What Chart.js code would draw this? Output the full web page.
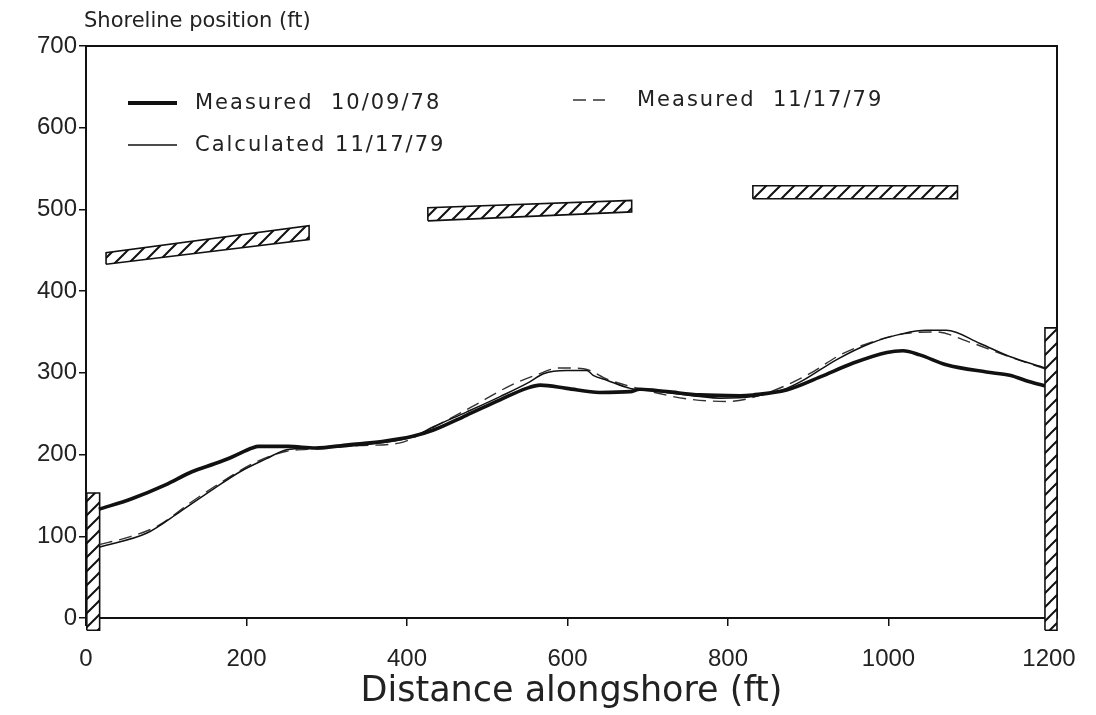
<!DOCTYPE html>
<html><head><meta charset="utf-8">
<script src="https://cdn.jsdelivr.net/npm/chart.js@4.4.1/dist/chart.umd.min.js"></script>
<style>html,body{margin:0;padding:0;background:#fff;}#wrap{width:1096px;height:715px;position:relative;}</style>
</head><body><div id="wrap"><canvas id="c" width="1096" height="715"></canvas></div>
<script>
// ---- data (feet) ----
const xTickValues = [0, 200, 400, 600, 800, 1000, 1200];
const yTickValues = [0, 100, 200, 300, 400, 500, 600, 700];

const measured78X = [16, 57, 99, 132, 161, 182, 207, 215, 252, 286, 327, 369, 406, 433, 474, 516, 549, 566, 599, 640, 678, 690, 724, 765, 815, 831, 873, 915, 956, 998, 1018, 1039, 1072, 1122, 1151, 1176, 1195];
const measured78Y = [133, 146, 163, 179, 189, 197, 208, 210, 210, 208, 212, 216, 222, 230, 248, 267, 281, 285, 281, 276, 277, 280, 277, 273, 272, 273, 279, 295, 312, 325, 327, 322, 310, 301, 297, 289, 284];

const calculated79X = [17, 76, 117, 159, 192, 225, 250, 283, 325, 366, 408, 433, 474, 516, 553, 570, 599, 624, 632, 649, 678, 724, 765, 790, 831, 873, 894, 935, 977, 1018, 1047, 1072, 1114, 1151, 1195];
const calculated79Y = [87, 104, 130, 158, 179, 195, 206, 208, 210, 214, 222, 234, 252, 271, 289, 299, 303, 303, 297, 291, 281, 276, 271, 269, 271, 281, 291, 316, 336, 348, 352, 352, 336, 320, 306];

const measured79X = [17, 50, 90, 130, 170, 210, 250, 290, 340, 390, 430, 480, 530, 560, 590, 620, 650, 700, 750, 800, 850, 900, 940, 980, 1020, 1060, 1100, 1150, 1195];
const measured79Y = [90, 98, 113, 141, 167, 190, 204, 207, 211, 214, 232, 258, 285, 297, 306, 305, 292, 278, 268, 265, 276, 298, 322, 338, 348, 350, 338, 320, 305];

const breakwater1X = [25, 25, 278, 278, 25];
const breakwater1Y = [433, 447, 480, 463, 433];
const breakwater2X = [426, 426, 680, 680, 426];
const breakwater2Y = [486, 502, 511, 497, 486];
const breakwater3X = [831, 831, 1086, 1086, 831];
const breakwater3Y = [513, 529, 529, 513, 513];
const groinLeftX = [1, 1, 17, 17, 1];
const groinLeftY = [-15, 153, 153, -15, -15];
const groinRightX = [1195, 1195, 1210, 1210, 1195];
const groinRightY = [-15, 355, 355, -15, -15];

const zip = (xs, ys) => xs.map((x, i) => ({x, y: ys[i]}));

function hatchPattern() {
  const s = 14;
  const c = document.createElement('canvas');
  c.width = s; c.height = s;
  const g = c.getContext('2d');
  g.fillStyle = '#fff'; g.fillRect(0, 0, s, s);
  g.strokeStyle = '#111'; g.lineWidth = 2;
  g.beginPath();
  g.moveTo(0, s); g.lineTo(s, 0);
  g.moveTo(-s / 2, s / 2); g.lineTo(s / 2, -s / 2);
  g.moveTo(s / 2, s * 1.5); g.lineTo(s * 1.5, s / 2);
  g.stroke();
  return g.createPattern(c, 'repeat');
}
const hatch = hatchPattern();

function structure(label, xs, ys) {
  return {label, data: zip(xs, ys), showLine: true, borderColor: '#111', borderWidth: 1.6,
    backgroundColor: hatch, fill: 'shape', pointRadius: 0, tension: 0, clip: false, legendHidden: true};
}

const datasets = [
  {label: 'Measured  10/09/78', data: zip(measured78X, measured78Y), showLine: true, borderColor: '#111',
   borderWidth: 3.6, pointRadius: 0, cubicInterpolationMode: 'monotone', fill: false, legendCol: 0, legendRow: 0},
  {label: 'Calculated 11/17/79', data: zip(calculated79X, calculated79Y), showLine: true, borderColor: '#111',
   borderWidth: 1.5, pointRadius: 0, cubicInterpolationMode: 'monotone', fill: false, legendCol: 0, legendRow: 1},
  {label: 'Measured  11/17/79', data: zip(measured79X, measured79Y), showLine: true, borderColor: '#333',
   borderWidth: 1.4, borderDash: [13, 7], pointRadius: 0, cubicInterpolationMode: 'monotone', fill: false, legendCol: 1, legendRow: 0},
  structure('breakwater 1', breakwater1X, breakwater1Y),
  structure('breakwater 2', breakwater2X, breakwater2Y),
  structure('breakwater 3', breakwater3X, breakwater3Y),
  structure('groin left', groinLeftX, groinLeftY),
  structure('groin right', groinRightX, groinRightY)
];

// let the hatched groins' fill reach below the x axis (they extend past y = 0)
let savedBottom = null;
const groinFillArea = {
  id: 'groinFillArea',
  beforeDatasetsDraw(chart) { savedBottom = chart.chartArea.bottom; chart.chartArea.bottom += 14; },
  afterDatasetsDraw(chart) { if (savedBottom !== null) chart.chartArea.bottom = savedBottom; }
};

const titlesPlugin = {
  id: 'titlesAndLegend',
  afterDraw(chart) {
    const {ctx, chartArea: a} = chart;
    ctx.save();
    ctx.fillStyle = '#222';
    ctx.textBaseline = 'middle';
    ctx.textAlign = 'left';
    ctx.font = '21px "DejaVu Sans"';
    ctx.fillText('Shoreline position (ft)', a.left - 2, a.top - 24);
    // legend
    const colLine = [a.left + 42, a.left + 487];
    const colLineW = [49, 32];
    const colText = [a.left + 109, a.left + 551];
    const rowY = [a.top + 57, a.top + 99];
    ctx.font = '21px "DejaVu Sans"';
    try { ctx.letterSpacing = '2px'; } catch (e) {}
    chart.data.datasets.forEach(ds => {
      if (ds.legendHidden) return;
      const y = rowY[ds.legendRow] - (ds.legendCol === 1 ? 3 : 0);
      const x0 = colLine[ds.legendCol];
      ctx.save();
      ctx.strokeStyle = ds.borderColor;
      ctx.lineWidth = ds.borderWidth + (ds.borderWidth > 3 ? 0.6 : 0);
      ctx.setLineDash(ds.borderDash || []);
      ctx.beginPath(); ctx.moveTo(x0, y); ctx.lineTo(x0 + colLineW[ds.legendCol], y); ctx.stroke();
      ctx.restore();
      ctx.fillText(ds.label, colText[ds.legendCol], y + 1);
    });
    ctx.restore();
  }
};

new Chart(document.getElementById('c'), {
  type: 'scatter',
  data: {datasets},
  options: {
    responsive: false, animation: false,
    layout: {padding: {top: 46, right: 39, left: 0, bottom: 0}},
    plugins: {legend: {display: false}, tooltip: {enabled: false}},
    scales: {
      x: {
        type: 'linear', position: 'bottom', min: 0, max: 1210,
        afterBuildTicks: s => { s.ticks = xTickValues.map(v => ({value: v})); },
        ticks: {includeBounds: false, autoSkip: false, maxRotation: 0, padding: 19, color: '#222',
                font: {family: 'Liberation Sans', size: 24}, callback: v => String(v)},
        grid: {drawOnChartArea: false, tickLength: 8, color: '#111', lineWidth: 1.5},
        border: {display: true, color: '#111', width: 2},
        title: {display: true, text: 'Distance alongshore (ft)', color: '#222',
                font: {family: 'DejaVu Sans', size: 35}, padding: {top: 0, bottom: 2}},
        afterFit: s => { s.height = 97; }
      },
      y: {
        type: 'linear', position: 'left', min: 0, max: 700,
        afterBuildTicks: s => { s.ticks = yTickValues.map(v => ({value: v})); },
        ticks: {padding: 2, color: '#222', font: {family: 'Liberation Sans', size: 24}, callback: v => String(v)},
        grid: {drawOnChartArea: false, tickLength: 7, color: '#111', lineWidth: 1.5},
        border: {display: true, color: '#111', width: 2},
        afterFit: s => { s.width = 86; }
      },
      xTop: {
        type: 'linear', position: 'top', min: 0, max: 1210,
        ticks: {display: false}, grid: {display: false},
        border: {display: true, color: '#111', width: 2},
        afterFit: s => { s.height = 0; }
      },
      yRight: {
        type: 'linear', position: 'right', min: 0, max: 700,
        ticks: {display: false}, grid: {display: false},
        border: {display: true, color: '#111', width: 2},
        afterFit: s => { s.width = 0; }
      }
    }
  },
  plugins: [groinFillArea, titlesPlugin]
});
</script>
</body></html>
